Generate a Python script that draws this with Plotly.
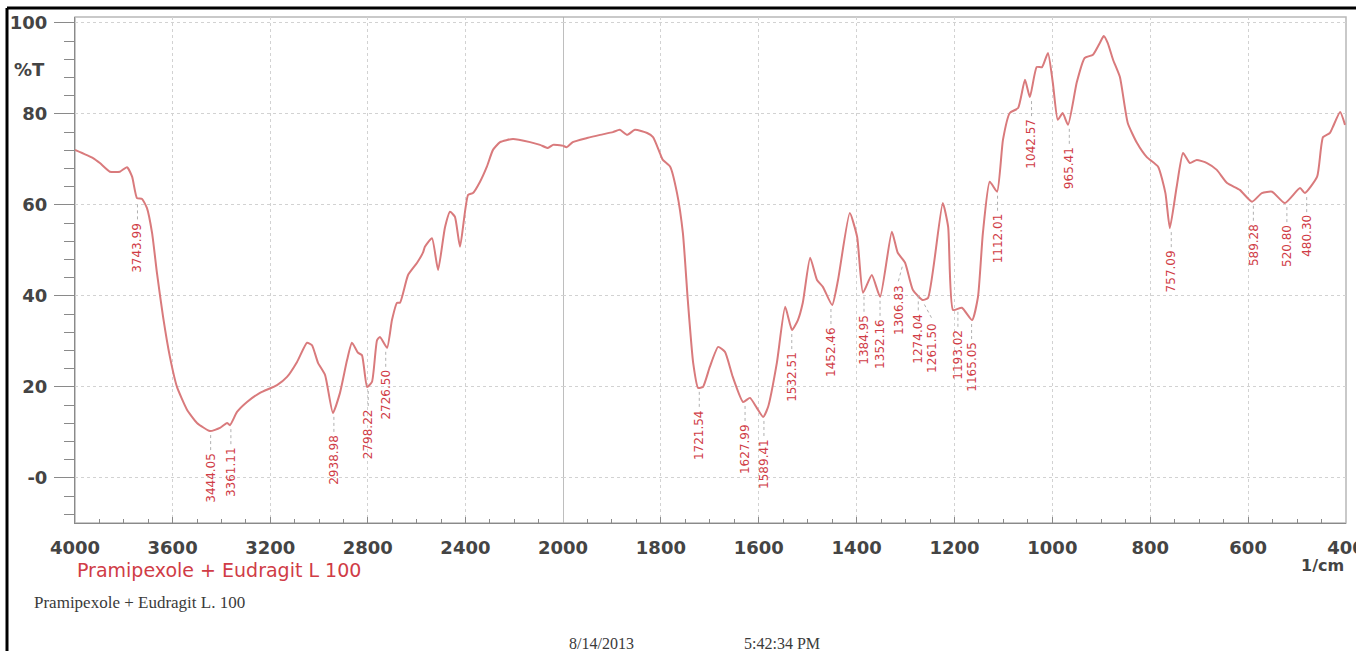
import plotly.graph_objects as go

# ---------------- data ----------------
wavenumber = [
    4000, 3926, 3898, 3857, 3816, 3787, 3766, 3746, 3725, 3705, 3684, 3664, 3639, 3611,
    3582, 3541, 3500, 3447, 3406, 3377, 3365, 3336, 3295, 3242, 3172, 3131, 3090, 3049,
    3029, 3004, 2975, 2943, 2914, 2885, 2865, 2840, 2824, 2803, 2783, 2762, 2750, 2721,
    2701, 2680, 2668, 2635, 2598, 2574, 2566, 2537, 2512, 2484, 2463, 2443, 2422, 2389,
    2369, 2340, 2312, 2287, 2258, 2205, 2135, 2094, 2062, 2041, 2000,
    1992, 1980, 1951, 1924, 1898, 1884, 1869, 1853, 1828, 1816, 1802, 1796, 1781, 1767,
    1755, 1745, 1734, 1724, 1714, 1700, 1683, 1669, 1653, 1632, 1618, 1604, 1591, 1581,
    1563, 1546, 1532, 1520, 1510, 1495, 1481, 1469, 1450, 1438, 1414, 1399, 1387, 1369,
    1352, 1328, 1316, 1301, 1285, 1265, 1254, 1224, 1213, 1203, 1185, 1164, 1152, 1142,
    1128, 1113, 1101, 1087, 1070, 1056, 1046, 1032, 1021, 1009, 999, 989, 979, 968,
    950, 934, 917, 903, 895, 887, 876, 862, 846, 827, 807, 784, 769, 760, 746, 733, 719,
    705, 684, 664, 643, 617, 592, 572, 551, 525, 494, 484, 459, 447, 433, 427, 412, 402,
]
transmittance = [
    72.1, 70.3, 69.2, 67.3, 67.3, 68.3, 66.2, 61.5, 61.3, 59.3, 53.8, 45.0, 35.4, 26.6,
    20.0, 15.0, 12.1, 10.3, 11.0, 12.1, 11.6, 14.5, 16.7, 18.7, 20.4, 22.2, 25.5, 29.7,
    29.2, 25.3, 22.6, 14.3, 18.7, 25.9, 29.7, 27.5, 27.0, 20.0, 21.1, 30.3, 31.0, 28.6,
    34.7, 38.5, 38.5, 44.6, 47.3, 49.5, 50.8, 52.7, 45.7, 55.0, 58.5, 57.4, 50.8, 62.2,
    62.6, 65.1, 68.4, 72.1, 73.8, 74.5, 73.8, 73.2, 72.5, 73.2, 73.0,
    72.7, 73.8, 74.7, 75.4, 76.0, 76.5, 75.4, 76.5, 75.8, 74.9, 71.4, 69.9, 68.4, 62.6,
    53.8, 39.1, 25.3, 19.8, 20.0, 24.4, 28.8, 27.7, 22.2, 16.7, 17.6, 15.4, 13.4, 15.6,
    25.3, 37.6, 32.5, 34.7, 38.5, 48.4, 43.5, 42.0, 38.0, 43.5, 58.2, 53.0, 40.7, 44.6,
    39.8, 54.1, 49.5, 47.3, 41.3, 39.1, 39.6, 60.4, 55.2, 36.9, 37.4, 34.7, 39.8, 53.8,
    65.1, 62.9, 74.3, 80.2, 81.3, 87.5, 83.7, 90.3, 90.3, 93.4, 86.8, 78.7, 80.2, 77.6,
    87.0, 92.3, 93.0, 95.6, 97.1, 95.6, 91.9, 88.1, 78.0, 73.6, 70.5, 68.4, 62.6, 54.9, 64.0, 71.4, 69.2,
    69.9, 69.2, 67.7, 64.8, 63.3, 60.7, 62.6, 62.9, 60.4, 63.7, 62.6, 66.2, 74.9, 75.8, 77.1, 80.4, 77.6,
]

peak_labels = [
    "3743.99", "3444.05", "3361.11", "2938.98", "2798.22", "2726.50",
    "1721.54", "1627.99", "1589.41", "1532.51", "1452.46", "1384.95", "1352.16",
    "1306.83", "1274.04", "1261.50", "1193.02", "1165.05", "1112.01", "1042.57",
    "965.41", "757.09", "589.28", "520.80", "480.30",
]
peak_T = [
    61.0, 10.3, 11.6, 14.3, 20.0, 28.6,
    19.8, 16.7, 13.4, 32.5, 38.0, 40.7, 39.8,
    47.3, 41.0, 39.0, 37.4, 34.7, 62.9, 83.7,
    77.6, 54.9, 60.7, 60.4, 62.6,
]

x_ticks_high = [4000, 3600, 3200, 2800, 2400]
x_ticks_low = [2000, 1800, 1600, 1400, 1200, 1000, 800, 600, 400]
y_ticks = [0, 20, 40, 60, 80, 100]
y_ticktext = ["-0", "20", "40", "60", "80", "100"]

title_text = "Pramipexole + Eudragit L 100"
small_text = "Pramipexole + Eudragit L. 100"
date_text = "8/14/2013"
time_text = "5:42:34 PM"

# ---------------- styling ----------------
LINE = "#d97a7c"
LABEL_RED = "#d03c46"
AXIS = "#8a8a8a"
GRID = "#d2d2d2"
SANS = "DejaVu Sans, Verdana, sans-serif"
SERIF = "Liberation Serif, Times New Roman, serif"
TICKFONT = dict(family=SANS, size=18, color="#444444", weight="bold")
SPLIT = 488 / 1271
# label nudges (pixels) where neighbouring labels would collide
label_xshift = {"1261.50": 8, "1306.83": -4}

hi_x = [w for w in wavenumber if w >= 2000]
hi_y = [t for w, t in zip(wavenumber, transmittance) if w >= 2000]
lo_x = [w for w in wavenumber if w <= 2000]
lo_y = [t for w, t in zip(wavenumber, transmittance) if w <= 2000]

fig = go.Figure()
line_style = dict(color=LINE, width=2, shape="spline", smoothing=0.5)
fig.add_trace(go.Scatter(x=hi_x, y=hi_y, mode="lines", line=line_style,
                         xaxis="x", yaxis="y", hoverinfo="skip", showlegend=False))
fig.add_trace(go.Scatter(x=lo_x, y=lo_y, mode="lines", line=line_style,
                         xaxis="x2", yaxis="y", hoverinfo="skip", showlegend=False))

common_x = dict(
    ticks="inside", ticklen=6, tickcolor=AXIS, showline=True, linecolor=AXIS, linewidth=1,
    showgrid=True, gridcolor=GRID, griddash="dot", gridwidth=1, zeroline=False,
    tickfont=TICKFONT, anchor="y", fixedrange=True, ticklabelstandoff=8,
    ticklabeloverflow="allow", automargin=False,
)
fig.update_layout(
    width=1356, height=651,
    margin=dict(l=75, r=10, t=17, b=128, autoexpand=False),
    paper_bgcolor="white", plot_bgcolor="white",
    xaxis=dict(domain=[0, SPLIT], range=[4000, 2000], tickvals=x_ticks_high,
               minor=dict(dtick=100, ticks="inside", ticklen=4, tickcolor=AXIS, showgrid=False),
               **common_x),
    xaxis2=dict(domain=[SPLIT, 1], range=[2000, 400], tickvals=x_ticks_low,
                minor=dict(dtick=50, ticks="inside", ticklen=4, tickcolor=AXIS, showgrid=False),
                **common_x),
    yaxis=dict(range=[-9.9, 101.3], tickvals=y_ticks, ticktext=y_ticktext,
               ticks="outside", ticklen=20, tickcolor=AXIS, ticklabelstandoff=3,
               minor=dict(dtick=4, ticks="outside", ticklen=10, tickcolor=AXIS, showgrid=False),
               showline=True, linecolor=AXIS, showgrid=True, gridcolor=GRID, griddash="dot",
               zeroline=False, tickfont=TICKFONT, anchor="x", fixedrange=True, automargin=False),
)

shapes = []
# plot frame
shapes.append(dict(type="rect", xref="paper", yref="paper", x0=0, x1=1, y0=0, y1=1,
                   line=dict(color="#b8b8b8", width=1.5), layer="below"))
# solid line at 2000
shapes.append(dict(type="line", xref="x2", yref="paper", x0=2000, x1=2000, y0=0, y1=1,
                   line=dict(color="#a8a8a8", width=1.5), layer="below"))
# outer black border (top & left)
shapes.append(dict(type="line", xref="paper", yref="paper", x0=-0.0535, x1=1.02, y0=1.0178, y1=1.0178,
                   line=dict(color="black", width=3)))
shapes.append(dict(type="line", xref="paper", yref="paper", x0=-0.0535, x1=-0.0535, y0=-0.27, y1=1.0178,
                   line=dict(color="black", width=3)))

annotations = []
for lab, t in zip(peak_labels, peak_T):
    w = float(lab)
    xr = "x" if w > 2000 else "x2"
    dx = label_xshift.get(lab, 0)
    shapes.append(dict(type="line", xref=xr, yref="y",
                       xsizemode="pixel", xanchor=w, x0=0, x1=dx,
                       ysizemode="pixel", yanchor=t, y0=-4, y1=-19,
                       line=dict(color="#b0b0b0", width=1, dash="dot")))
    annotations.append(dict(x=w, y=t, xref=xr, yref="y", text=lab, textangle=-90,
                            xanchor="center", yanchor="top", yshift=-20, xshift=dx,
                            showarrow=False,
                            font=dict(family=SANS, size=12, color=LABEL_RED)))

annotations.append(dict(x=-28 / 1271, y=89.7, xref="paper", yref="y", text="%T", showarrow=False,
                        xanchor="right", yanchor="middle", font=TICKFONT))
annotations.append(dict(x=0, y=-47 / 506, xref="paper", yref="paper", text=title_text,
                        showarrow=False, xanchor="left", yanchor="middle",
                        font=dict(family=SANS, size=19, color=LABEL_RED)))
annotations.append(dict(x=1, y=-42 / 506, xref="paper", yref="paper", text="1/cm",
                        showarrow=False, xanchor="right", yanchor="middle",
                        font=dict(family=SANS, size=16, color="#444444", weight="bold")))
annotations.append(dict(x=-43 / 1271, y=-79 / 506, xref="paper", yref="paper", text=small_text,
                        showarrow=False, xanchor="left", yanchor="middle",
                        font=dict(family=SERIF, size=17, color="#3a3a3a")))
annotations.append(dict(x=(567 - 75) / 1271, y=-120 / 506, xref="paper", yref="paper", text=date_text,
                        showarrow=False, xanchor="left", yanchor="middle",
                        font=dict(family=SERIF, size=16, color="#3a3a3a")))
annotations.append(dict(x=(742 - 75) / 1271, y=-120 / 506, xref="paper", yref="paper", text=time_text,
                        showarrow=False, xanchor="left", yanchor="middle",
                        font=dict(family=SERIF, size=16, color="#3a3a3a")))

fig.update_layout(shapes=shapes, annotations=annotations)
fig.write_html("out.html")
